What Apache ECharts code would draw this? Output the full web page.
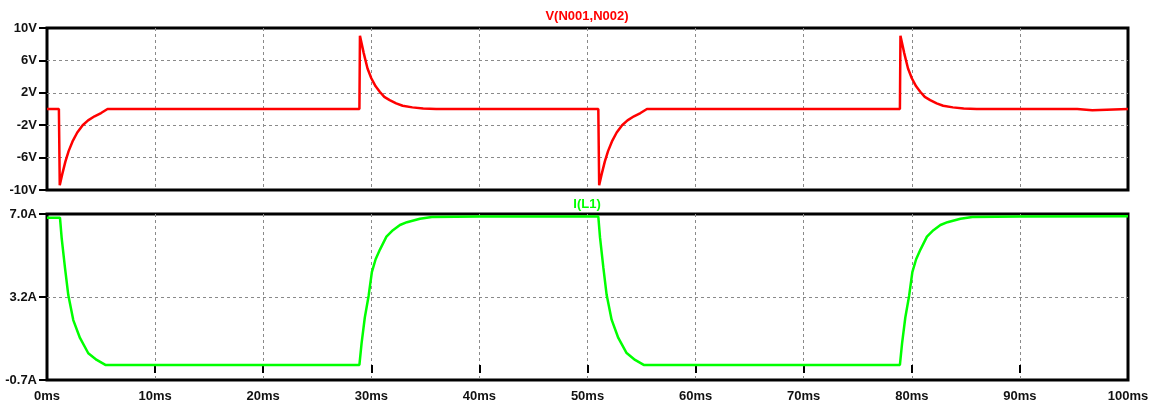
<!DOCTYPE html>
<html>
<head>
<meta charset="utf-8">
<script src="https://cdn.jsdelivr.net/npm/echarts@6/dist/echarts.min.js"></script>
<style>html,body{margin:0;padding:0;background:#fff;}#c{width:1162px;height:407px;}</style>
</head>
<body>
<div id="c"></div>
<script>
// ---- data (time in ms) ----
const vTitle = 'V(N001,N002)';
const iTitle = 'I(L1)';
const vTime = [0,1.1,1.18,1.25,1.4,1.7,2.0,2.4,2.8,3.3,3.8,4.4,5.0,5.6,
  28.9,28.95,29.3,29.65,30.0,30.4,30.8,31.2,31.7,32.3,32.9,33.8,34.8,36.0,
  51.0,51.08,51.15,51.3,51.6,51.9,52.3,52.7,53.2,53.7,54.3,54.9,55.5,
  78.9,78.95,79.3,79.65,80.0,80.4,80.8,81.2,81.7,82.3,82.9,83.8,84.8,86.0,
  95.3,95.35,96.7,96.75,100];
const vValues = [0,0,-9.4,-9.2,-8.1,-6.5,-5.2,-3.9,-2.9,-2.0,-1.4,-0.9,-0.5,0,
  0,9.05,6.9,5.0,3.8,2.8,2.1,1.5,1.1,0.7,0.4,0.2,0.05,0,
  0,-9.4,-9.2,-8.1,-6.5,-5.2,-3.9,-2.9,-2.0,-1.4,-0.9,-0.5,0,
  0,9.05,6.9,5.0,3.8,2.8,2.1,1.5,1.1,0.7,0.4,0.2,0.05,0,
  0,-0.15,-0.15,0,0];
const iTime = [0,1.2,1.36,1.67,1.97,2.43,3.05,3.82,4.6,5.4,
  28.9,29.1,29.4,29.75,30.05,30.4,30.8,31.4,32.0,32.65,33.3,34.5,35.6,40,
  51.0,51.16,51.47,51.77,52.23,52.85,53.62,54.4,55.2,
  78.9,79.1,79.4,79.75,80.05,80.4,80.8,81.4,82.0,82.65,83.3,84.5,85.6,90,100];
const iValues = [6.83,6.83,5.87,4.48,3.24,2.08,1.25,0.54,0.23,0,
  0,1.0,2.2,3.2,4.3,4.9,5.35,5.95,6.25,6.49,6.62,6.78,6.86,6.88,
  6.88,5.9,4.5,3.25,2.1,1.25,0.55,0.23,0,
  0,1.0,2.2,3.2,4.3,4.9,5.35,5.95,6.25,6.49,6.62,6.78,6.86,6.88,6.9];
const vRange = [-10, 10];
const iRange = [-0.7, 7.0];
const vTickLabels = ['-10V','-6V','-2V','2V','6V','10V'];
const iTickLabels = ['-0.7A','3.2A','7.0A'];
const xRange = [0, 100];
const xStep = 10;

const FONT = 'Liberation Sans, Arial, sans-serif';
const dashed = {show:true, showMinLine:false, showMaxLine:false, lineStyle:{color:'#8a8a8a', width:1, type:[3,3]}};
const tickStyle = {show:true, inside:false, length:8, lineStyle:{color:'#000', width:2}};
const labelStyle = {color:'#111', fontFamily:FONT, fontWeight:'bold', fontSize:13};

const chart = echarts.init(document.getElementById('c'), null, {renderer:'canvas'});
chart.setOption({
  animation:false,
  backgroundColor:'#fff',
  title:[
    {text:vTitle, left:587, top:10, padding:0, textAlign:'center',
     textStyle:{color:'#ff0000', fontFamily:FONT, fontWeight:'bold', fontSize:13}},
    {text:iTitle, left:587, top:198, padding:0, textAlign:'center',
     textStyle:{color:'#00ff00', fontFamily:FONT, fontWeight:'bold', fontSize:13}}
  ],
  grid:[
    {left:47, right:34, top:28, height:162, show:true, borderColor:'#000', borderWidth:3, backgroundColor:'transparent'},
    {left:47, right:34, top:214, height:166, show:true, borderColor:'#000', borderWidth:3, backgroundColor:'transparent'}
  ],
  xAxis:[
    {gridIndex:0, type:'value', min:xRange[0], max:xRange[1], interval:xStep,
     axisLine:{show:false}, axisTick:{show:false}, axisLabel:{show:false}, splitLine:dashed},
    {gridIndex:1, type:'value', min:xRange[0], max:xRange[1], interval:xStep,
     axisLine:{show:false}, axisTick:tickStyle,
     axisLabel:Object.assign({margin:10, formatter:v=>v+'ms'}, labelStyle), splitLine:dashed}
  ],
  yAxis:[
    {gridIndex:0, type:'value', min:vRange[0], max:vRange[1], show:false, splitLine:{show:false}},
    {gridIndex:0, type:'value', min:0, max:vTickLabels.length-1, interval:1, position:'left',
     axisLine:{show:false}, axisTick:tickStyle,
     axisLabel:Object.assign({margin:10, formatter:v=>vTickLabels[Math.round(v)]}, labelStyle), splitLine:dashed},
    {gridIndex:1, type:'value', min:iRange[0], max:iRange[1], show:false, splitLine:{show:false}},
    {gridIndex:1, type:'value', min:0, max:iTickLabels.length-1, interval:1, position:'left',
     axisLine:{show:false}, axisTick:tickStyle,
     axisLabel:Object.assign({margin:10, formatter:v=>iTickLabels[Math.round(v)]}, labelStyle), splitLine:dashed}
  ],
  series:[
    {type:'line', xAxisIndex:0, yAxisIndex:0, symbol:'none', silent:true,
     lineStyle:{color:'#ff0000', width:2.5}, data:vTime.map((t,k)=>[t,vValues[k]])},
    {type:'line', xAxisIndex:1, yAxisIndex:2, symbol:'none', silent:true,
     lineStyle:{color:'#00ff00', width:2.5}, data:iTime.map((t,k)=>[t,iValues[k]])}
  ]
});
</script>
</body>
</html>
